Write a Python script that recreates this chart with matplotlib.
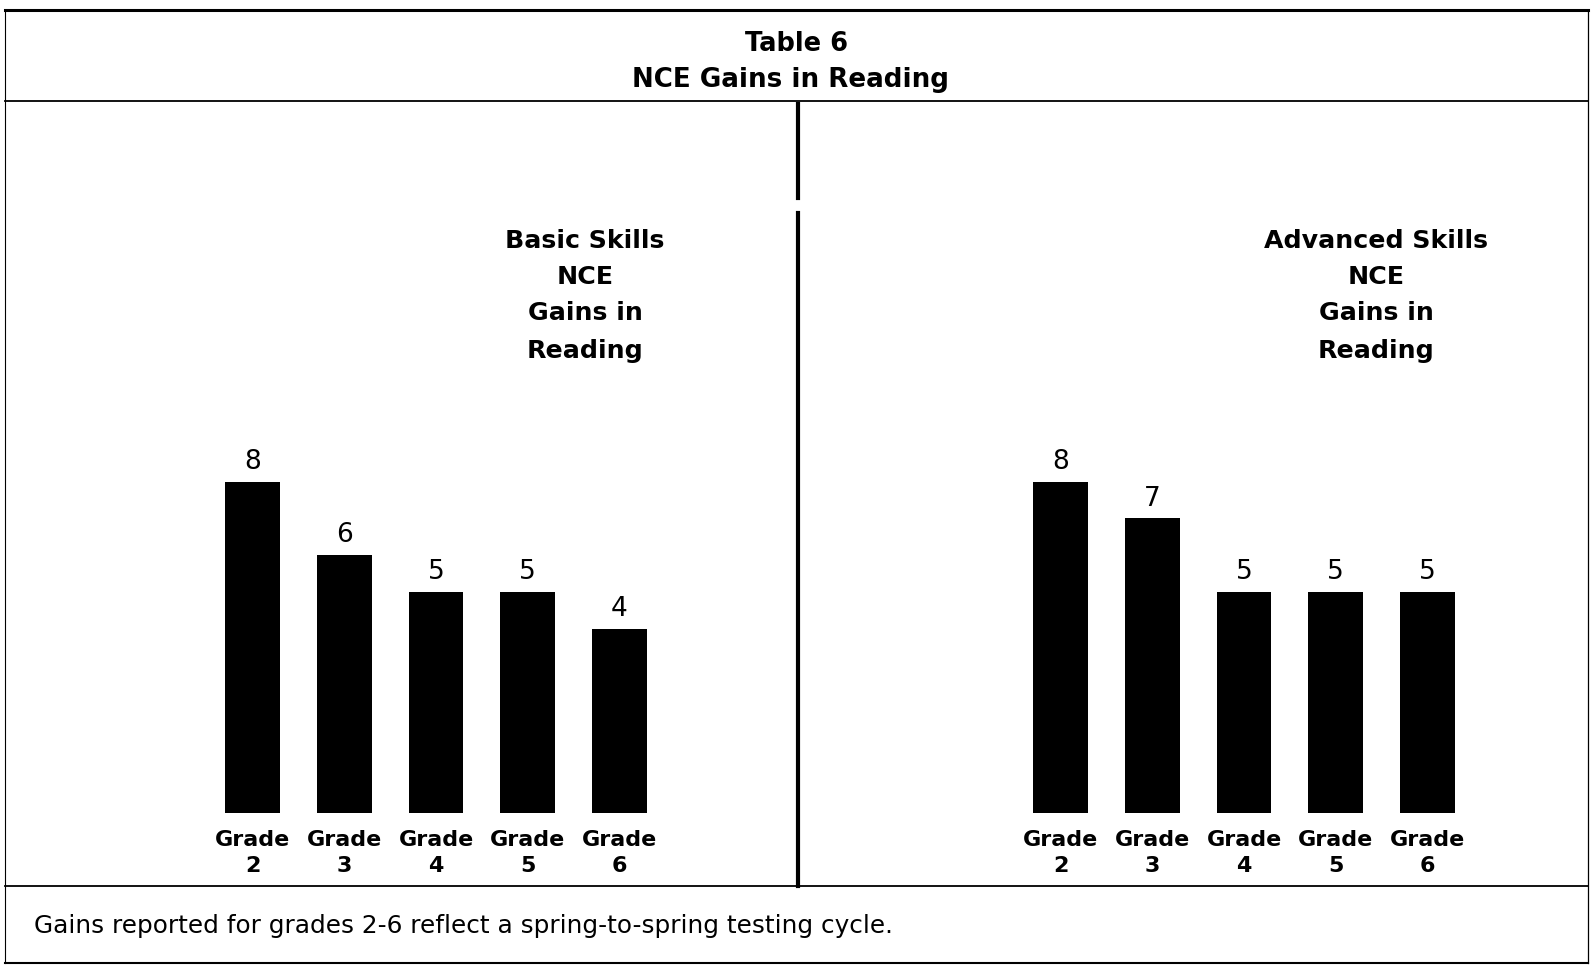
import matplotlib
import matplotlib.pyplot as plt
from matplotlib.lines import Line2D

plt.rcParams['font.family'] = ['DejaVu Sans']

# Data
grades = ['2', '3', '4', '5', '6']
basic_gains = [8, 6, 5, 5, 4]
advanced_gains = [8, 7, 5, 5, 5]

title_lines = ['Table 6', 'NCE Gains in Reading']
basic_title = ['Basic Skills', 'NCE', 'Gains in', 'Reading']
advanced_title = ['Advanced Skills', 'NCE', 'Gains in', 'Reading']
footnote = 'Gains reported for grades 2-6 reflect a spring-to-spring testing cycle.'

W, H = 1593, 967
fig = plt.figure(figsize=(W / 100, H / 100), dpi=100)
fig.patch.set_facecolor('white')


def fx(px):
    return px / W


def fy(py):
    return 1 - py / H


# Frame lines (pixel coordinates of the table layout)
def hline(y, x0, x1, lw):
    fig.add_artist(Line2D([fx(x0), fx(x1)], [fy(y), fy(y)], color='black', lw=lw))


def vline(x, y0, y1, lw):
    fig.add_artist(Line2D([fx(x), fx(x)], [fy(y0), fy(y1)], color='black', lw=lw))


hline(10, 5, 1588, 2.2)
hline(101, 5, 1588, 1.3)
hline(886, 5, 1588, 1.3)
hline(963, 5, 1588, 1.5)
vline(5, 10, 963, 0.8)
vline(1588, 10, 963, 0.9)
vline(798, 104, 198, 3.0)
vline(798, 213, 886, 3.0)

# Header
fig.text(0.5, fy(44), title_lines[0], ha='center', va='center', fontsize=18.5, fontweight='bold')
fig.text(fx(790), fy(80), title_lines[1], ha='center', va='center', fontsize=18.8, fontweight='bold')

# Footnote
fig.text(fx(34), fy(926), footnote, ha='left', va='center', fontsize=17.8)

baseline = -1


def draw_panel(left_px, values, heading, head_x):
    ax = fig.add_axes([fx(left_px), fy(813), fx(458), 405 / H])
    x = list(range(len(values)))
    heights = [v - baseline for v in values]
    ax.bar(x, heights, bottom=baseline, width=0.6, color='black')
    for xi, v in zip(x, values):
        ax.annotate(str(v), (xi, v), xytext=(0, 5), textcoords='offset points',
                    ha='center', va='bottom', fontsize=19)
    ax.set_xlim(-0.5, len(values) - 0.5)
    ax.set_ylim(baseline, 10)
    ax.set_xticks(x)
    ax.set_xticklabels(['Grade\n' + g for g in grades], fontsize=16,
                       fontweight='bold', linespacing=1.4)
    ax.tick_params(axis='x', length=0, pad=12)
    ax.set_yticks([])
    for s in ax.spines.values():
        s.set_visible(False)
    ax.patch.set_alpha(0)
    ys = [241, 277, 313, 351]
    for line, y in zip(heading, ys):
        fig.text(fx(head_x), fy(y), line, ha='center', va='center',
                 fontsize=18.2, fontweight='bold')
    return ax


draw_panel(207, basic_gains, basic_title, 585)
draw_panel(1015, advanced_gains, advanced_title, 1376)

fig.savefig('out.png', dpi=100, facecolor='white')
